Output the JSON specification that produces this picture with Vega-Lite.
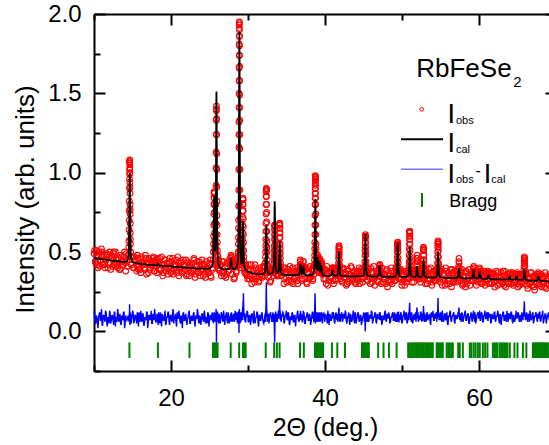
{
  "$schema": "https://vega.github.io/schema/vega-lite/v6.json",
  "width": 455,
  "height": 357,
  "autosize": {"type": "none"},
  "padding": {"left": 94, "top": 14, "right": 0, "bottom": 74},
  "background": "white",
  "config": {"view": {"stroke": null}, "font": "Liberation Sans"},
  "datasets": {
    "pattern": [
      {"t":10,"o":0.49,"d":0.11},{"t":10.15,"o":0.44,"d":0.06},{"t":10.3,"o":0.51,"d":0.10},{"t":10.45,"o":0.42,"d":0.05},
      {"t":10.6,"o":0.47,"d":0.09},{"t":10.75,"o":0.41,"d":0.12},{"t":10.9,"o":0.48,"d":0.07},{"t":11.05,"o":0.50,"d":0.04},
      {"t":11.2,"o":0.44,"d":0.10},{"t":11.35,"o":0.42,"d":0.08},{"t":11.5,"o":0.45,"d":0.13},{"t":11.65,"o":0.49,"d":0.06},
      {"t":11.8,"o":0.40,"d":0.09},{"t":11.95,"o":0.47,"d":0.05},{"t":12.1,"o":0.43,"d":0.11},{"t":12.25,"o":0.48,"d":0.07},
      {"t":12.4,"o":0.41,"d":0.10},{"t":12.55,"o":0.50,"d":0.04},{"t":12.7,"o":0.43,"d":0.12},{"t":12.85,"o":0.45,"d":0.08},
      {"t":13.0,"o":0.41,"d":0.06},{"t":13.15,"o":0.46,"d":0.11},{"t":13.3,"o":0.39,"d":0.09},{"t":13.45,"o":0.48,"d":0.05},
      {"t":13.6,"o":0.44,"d":0.10},{"t":13.75,"o":0.42,"d":0.07},{"t":13.9,"o":0.47,"d":0.12},{"t":14.05,"o":0.43,"d":0.06},
      {"t":14.2,"o":0.49,"d":0.08},{"t":14.34,"o":0.41,"d":0.08},{"t":14.44,"o":0.48,"d":0.10},{"t":14.49,"o":0.45,"d":0.07},
      {"t":14.52,"o":0.53,"d":0.09},{"t":14.54,"o":0.57,"d":0.06},{"t":14.56,"o":0.64,"d":0.10},{"t":14.58,"o":0.76,"d":0.08},
      {"t":14.59,"o":0.82,"d":0.12},{"t":14.60,"o":0.90,"d":0.09},{"t":14.61,"o":0.96,"d":0.13},{"t":14.62,"o":1.02,"d":0.17},
      {"t":14.63,"o":1.06,"d":0.12},{"t":14.64,"o":1.08,"d":0.10},{"t":14.65,"o":1.05,"d":0.07},{"t":14.66,"o":1.00,"d":0.04},
      {"t":14.67,"o":0.94,"d":0.06},{"t":14.68,"o":0.87,"d":0.09},{"t":14.69,"o":0.80,"d":0.05},{"t":14.70,"o":0.74,"d":0.10},
      {"t":14.72,"o":0.62,"d":0.07},{"t":14.74,"o":0.55,"d":0.11},{"t":14.76,"o":0.50,"d":0.06},{"t":14.79,"o":0.47,"d":0.09},
      {"t":14.84,"o":0.42,"d":0.05},{"t":14.94,"o":0.47,"d":0.10},
      {"t":15.1,"o":0.40,"d":0.11},{"t":15.25,"o":0.47,"d":0.07},{"t":15.4,"o":0.44,"d":0.10},{"t":15.55,"o":0.38,"d":0.05},
      {"t":15.7,"o":0.46,"d":0.09},{"t":15.85,"o":0.41,"d":0.12},{"t":16.0,"o":0.39,"d":0.06},{"t":16.15,"o":0.47,"d":0.08},
      {"t":16.3,"o":0.42,"d":0.11},{"t":16.45,"o":0.44,"d":0.04},{"t":16.6,"o":0.39,"d":0.09},{"t":16.75,"o":0.46,"d":0.07},
      {"t":16.9,"o":0.43,"d":0.12},{"t":17.05,"o":0.37,"d":0.06},{"t":17.2,"o":0.45,"d":0.10},{"t":17.35,"o":0.40,"d":0.08},
      {"t":17.5,"o":0.42,"d":0.05},{"t":17.65,"o":0.46,"d":0.11},{"t":17.8,"o":0.38,"d":0.07},{"t":17.95,"o":0.44,"d":0.10},
      {"t":18.1,"o":0.41,"d":0.06},{"t":18.25,"o":0.46,"d":0.09},{"t":18.4,"o":0.39,"d":0.12},{"t":18.55,"o":0.46,"d":0.05},
      {"t":18.7,"o":0.39,"d":0.08},{"t":18.85,"o":0.42,"d":0.11},{"t":19.0,"o":0.37,"d":0.07},{"t":19.15,"o":0.45,"d":0.10},
      {"t":19.3,"o":0.40,"d":0.04},{"t":19.45,"o":0.43,"d":0.09},{"t":19.6,"o":0.36,"d":0.12},{"t":19.75,"o":0.44,"d":0.06},
      {"t":19.9,"o":0.41,"d":0.10},{"t":20.05,"o":0.38,"d":0.07},{"t":20.2,"o":0.46,"d":0.11},{"t":20.35,"o":0.39,"d":0.05},
      {"t":20.5,"o":0.42,"d":0.09},{"t":20.65,"o":0.45,"d":0.06},{"t":20.8,"o":0.37,"d":0.12},{"t":20.95,"o":0.43,"d":0.08},
      {"t":21.1,"o":0.40,"d":0.10},{"t":21.25,"o":0.43,"d":0.05},{"t":21.4,"o":0.37,"d":0.09},{"t":21.55,"o":0.45,"d":0.11},
      {"t":21.7,"o":0.38,"d":0.07},{"t":21.85,"o":0.41,"d":0.10},{"t":22.0,"o":0.35,"d":0.06},{"t":22.15,"o":0.44,"d":0.08},
      {"t":22.3,"o":0.40,"d":0.12},{"t":22.45,"o":0.42,"d":0.05},{"t":22.6,"o":0.37,"d":0.09},{"t":22.75,"o":0.43,"d":0.07},
      {"t":22.9,"o":0.39,"d":0.11},{"t":23.05,"o":0.45,"d":0.06},{"t":23.2,"o":0.36,"d":0.10},{"t":23.35,"o":0.41,"d":0.08},
      {"t":23.5,"o":0.38,"d":0.12},{"t":23.65,"o":0.44,"d":0.05},{"t":23.8,"o":0.35,"d":0.09},{"t":23.95,"o":0.42,"d":0.07},
      {"t":24.1,"o":0.39,"d":0.11},{"t":24.25,"o":0.42,"d":0.06},{"t":24.4,"o":0.36,"d":0.10},{"t":24.55,"o":0.44,"d":0.08},
      {"t":24.7,"o":0.39,"d":0.05},{"t":24.85,"o":0.37,"d":0.11},{"t":25.0,"o":0.43,"d":0.07},{"t":25.15,"o":0.35,"d":0.10},
      {"t":25.30,"o":0.43,"d":0.09},{"t":25.40,"o":0.39,"d":0.06},{"t":25.45,"o":0.45,"d":0.11},{"t":25.50,"o":0.50,"d":0.08},
      {"t":25.53,"o":0.60,"d":0.10},{"t":25.56,"o":0.74,"d":0.07},{"t":25.58,"o":0.84,"d":0.11},{"t":25.60,"o":0.88,"d":0.09},
      {"t":25.62,"o":0.84,"d":0.12},{"t":25.64,"o":0.75,"d":0.06},{"t":25.67,"o":0.62,"d":0.09},{"t":25.70,"o":0.53,"d":0.11},
      {"t":25.74,"o":0.50,"d":0.07},{"t":25.78,"o":0.55,"d":0.10},{"t":25.81,"o":0.68,"d":0.08},{"t":25.84,"o":0.92,"d":0.12},
      {"t":25.86,"o":1.13,"d":0.14},{"t":25.88,"o":1.33,"d":0.06},{"t":25.90,"o":1.42,"d":-0.07},{"t":25.92,"o":1.34,"d":0.03},
      {"t":25.94,"o":1.12,"d":0.10},{"t":25.96,"o":0.91,"d":0.08},{"t":25.98,"o":0.73,"d":0.11},{"t":26.00,"o":0.61,"d":0.06},
      {"t":26.03,"o":0.51,"d":0.09},{"t":26.06,"o":0.45,"d":0.12},{"t":26.10,"o":0.47,"d":0.07},{"t":26.15,"o":0.40,"d":0.10},
      {"t":26.20,"o":0.44,"d":0.05},{"t":26.30,"o":0.38,"d":0.09},
      {"t":26.45,"o":0.42,"d":0.07},{"t":26.6,"o":0.37,"d":0.11},{"t":26.75,"o":0.44,"d":0.06},{"t":26.9,"o":0.35,"d":0.10},
      {"t":27.05,"o":0.40,"d":0.08},{"t":27.2,"o":0.36,"d":0.12},{"t":27.35,"o":0.41,"d":0.05},{"t":27.5,"o":0.38,"d":0.09},
      {"t":27.65,"o":0.43,"d":0.07},{"t":27.72,"o":0.41,"d":0.10},{"t":27.76,"o":0.46,"d":0.11},{"t":27.8,"o":0.48,"d":0.09},
      {"t":27.84,"o":0.45,"d":0.06},{"t":27.88,"o":0.43,"d":0.10},{"t":27.95,"o":0.36,"d":0.08},{"t":28.1,"o":0.42,"d":0.11},
      {"t":28.25,"o":0.34,"d":0.06},{"t":28.4,"o":0.42,"d":0.09},
      {"t":28.50,"o":0.38,"d":0.10},{"t":28.60,"o":0.45,"d":0.07},{"t":28.66,"o":0.43,"d":0.11},{"t":28.70,"o":0.47,"d":0.06},
      {"t":28.73,"o":0.50,"d":0.09},{"t":28.76,"o":0.59,"d":0.12},{"t":28.78,"o":0.70,"d":0.05},{"t":28.80,"o":0.89,"d":0.08},
      {"t":28.82,"o":1.16,"d":0.03},{"t":28.83,"o":1.32,"d":-0.01},{"t":28.84,"o":1.50,"d":0.04},{"t":28.85,"o":1.66,"d":0.10},
      {"t":28.86,"o":1.81,"d":0.07},{"t":28.87,"o":1.91,"d":0.11},{"t":28.88,"o":1.95,"d":0.13},{"t":28.89,"o":1.90,"d":0.09},
      {"t":28.90,"o":1.80,"d":0.12},{"t":28.91,"o":1.67,"d":0.06},{"t":28.92,"o":1.49,"d":0.10},{"t":28.93,"o":1.33,"d":0.08},
      {"t":28.94,"o":1.15,"d":0.05},{"t":28.96,"o":0.89,"d":0.11},{"t":28.98,"o":0.71,"d":0.07},{"t":29.00,"o":0.58,"d":0.10},
      {"t":29.03,"o":0.51,"d":0.06},{"t":29.06,"o":0.46,"d":0.12},{"t":29.10,"o":0.45,"d":0.08},{"t":29.15,"o":0.44,"d":0.11},
      {"t":29.20,"o":0.42,"d":0.07},{"t":29.24,"o":0.48,"d":0.10},{"t":29.27,"o":0.55,"d":0.13},{"t":29.29,"o":0.62,"d":0.09},
      {"t":29.31,"o":0.72,"d":0.15},{"t":29.33,"o":0.80,"d":0.12},{"t":29.35,"o":0.84,"d":0.18},{"t":29.37,"o":0.80,"d":0.14},
      {"t":29.39,"o":0.71,"d":0.20},{"t":29.41,"o":0.61,"d":0.24},{"t":29.44,"o":0.51,"d":0.16},{"t":29.48,"o":0.44,"d":0.10},
      {"t":29.53,"o":0.39,"d":0.07},{"t":29.60,"o":0.42,"d":0.11},{"t":29.70,"o":0.37,"d":0.06},
      {"t":29.8,"o":0.41,"d":0.09},{"t":29.95,"o":0.33,"d":0.12},{"t":30.1,"o":0.38,"d":0.06},{"t":30.25,"o":0.35,"d":0.10},
      {"t":30.4,"o":0.42,"d":0.07},{"t":30.55,"o":0.33,"d":0.11},{"t":30.7,"o":0.38,"d":0.05},{"t":30.85,"o":0.31,"d":0.09},
      {"t":31.0,"o":0.40,"d":0.08},{"t":31.15,"o":0.35,"d":0.12},{"t":31.3,"o":0.39,"d":0.06},{"t":31.45,"o":0.32,"d":0.10},
      {"t":31.6,"o":0.36,"d":0.07},{"t":31.75,"o":0.38,"d":0.11},{"t":31.9,"o":0.35,"d":0.08},{"t":32.05,"o":0.41,"d":0.05},
      {"t":32.15,"o":0.37,"d":0.08},{"t":32.22,"o":0.41,"d":0.11},{"t":32.26,"o":0.43,"d":0.07},{"t":32.29,"o":0.50,"d":0.10},
      {"t":32.31,"o":0.58,"d":0.13},{"t":32.33,"o":0.68,"d":0.16},{"t":32.35,"o":0.80,"d":0.22},{"t":32.37,"o":0.88,"d":0.28},
      {"t":32.38,"o":0.90,"d":0.31},{"t":32.39,"o":0.89,"d":0.26},{"t":32.41,"o":0.80,"d":0.19},{"t":32.43,"o":0.69,"d":0.14},
      {"t":32.45,"o":0.57,"d":0.09},{"t":32.47,"o":0.50,"d":0.12},{"t":32.50,"o":0.42,"d":0.06},{"t":32.54,"o":0.39,"d":0.10},
      {"t":32.60,"o":0.41,"d":0.07},{"t":32.68,"o":0.34,"d":0.11},
      {"t":32.8,"o":0.38,"d":0.09},{"t":32.95,"o":0.32,"d":0.12},{"t":33.1,"o":0.37,"d":0.06},
      {"t":33.20,"o":0.39,"d":0.10},{"t":33.28,"o":0.35,"d":0.07},{"t":33.33,"o":0.39,"d":0.11},{"t":33.37,"o":0.42,"d":0.08},
      {"t":33.40,"o":0.48,"d":0.05},{"t":33.42,"o":0.54,"d":0.03},{"t":33.44,"o":0.61,"d":-0.02},{"t":33.46,"o":0.66,"d":-0.07},
      {"t":33.47,"o":0.67,"d":-0.05},{"t":33.49,"o":0.64,"d":0.01},{"t":33.51,"o":0.58,"d":0.06},{"t":33.53,"o":0.51,"d":0.10},
      {"t":33.55,"o":0.46,"d":0.08},{"t":33.58,"o":0.41,"d":0.12},{"t":33.63,"o":0.36,"d":0.07},{"t":33.70,"o":0.39,"d":0.10},
      {"t":33.78,"o":0.35,"d":0.06},{"t":33.86,"o":0.38,"d":0.09},{"t":33.93,"o":0.36,"d":0.12},{"t":33.98,"o":0.40,"d":0.08},
      {"t":34.02,"o":0.43,"d":0.11},{"t":34.05,"o":0.49,"d":0.13},{"t":34.07,"o":0.55,"d":0.15},{"t":34.09,"o":0.62,"d":0.17},
      {"t":34.11,"o":0.67,"d":0.19},{"t":34.12,"o":0.68,"d":0.18},{"t":34.13,"o":0.67,"d":0.14},{"t":34.15,"o":0.62,"d":0.11},
      {"t":34.17,"o":0.55,"d":0.08},{"t":34.19,"o":0.49,"d":0.12},{"t":34.22,"o":0.43,"d":0.07},{"t":34.26,"o":0.39,"d":0.10},
      {"t":34.32,"o":0.35,"d":0.06},{"t":34.40,"o":0.38,"d":0.09},
      {"t":34.6,"o":0.40,"d":0.11},{"t":34.75,"o":0.33,"d":0.06},{"t":34.9,"o":0.37,"d":0.10},{"t":35.05,"o":0.31,"d":0.08},
      {"t":35.2,"o":0.39,"d":0.12},{"t":35.35,"o":0.35,"d":0.05},{"t":35.5,"o":0.37,"d":0.09},{"t":35.65,"o":0.31,"d":0.07},
      {"t":35.8,"o":0.40,"d":0.11},{"t":35.95,"o":0.33,"d":0.06},{"t":36.1,"o":0.35,"d":0.10},{"t":36.25,"o":0.38,"d":0.08},
      {"t":36.4,"o":0.32,"d":0.12},{"t":36.55,"o":0.37,"d":0.07},{"t":36.7,"o":0.39,"d":0.09},{"t":36.76,"o":0.42,"d":0.10},
      {"t":36.8,"o":0.45,"d":0.12},{"t":36.84,"o":0.41,"d":0.08},{"t":36.9,"o":0.36,"d":0.11},{"t":37.05,"o":0.33,"d":0.06},
      {"t":37.12,"o":0.39,"d":0.10},{"t":37.16,"o":0.41,"d":0.09},{"t":37.2,"o":0.44,"d":0.12},{"t":37.24,"o":0.40,"d":0.07},
      {"t":37.3,"o":0.38,"d":0.10},{"t":37.45,"o":0.40,"d":0.05},{"t":37.6,"o":0.31,"d":0.09},{"t":37.75,"o":0.37,"d":0.11},
      {"t":37.9,"o":0.33,"d":0.07},{"t":38.05,"o":0.41,"d":0.10},{"t":38.2,"o":0.35,"d":0.06},{"t":38.35,"o":0.39,"d":0.12},
      {"t":38.45,"o":0.33,"d":0.08},{"t":38.52,"o":0.39,"d":0.11},{"t":38.58,"o":0.39,"d":0.06},{"t":38.62,"o":0.42,"d":0.10},
      {"t":38.65,"o":0.48,"d":0.13},{"t":38.67,"o":0.56,"d":0.16},{"t":38.69,"o":0.67,"d":0.20},{"t":38.71,"o":0.80,"d":0.24},
      {"t":38.72,"o":0.87,"d":0.21},{"t":38.73,"o":0.93,"d":0.18},{"t":38.74,"o":0.97,"d":0.15},{"t":38.75,"o":0.98,"d":0.13},
      {"t":38.76,"o":0.96,"d":0.10},{"t":38.77,"o":0.92,"d":0.07},{"t":38.78,"o":0.87,"d":0.05},{"t":38.79,"o":0.80,"d":0.08},
      {"t":38.81,"o":0.67,"d":0.11},{"t":38.83,"o":0.55,"d":0.07},{"t":38.85,"o":0.49,"d":0.10},{"t":38.88,"o":0.43,"d":0.06},
      {"t":38.92,"o":0.41,"d":0.09},{"t":38.96,"o":0.40,"d":0.12},{"t":39.00,"o":0.44,"d":0.08},{"t":39.05,"o":0.48,"d":0.10},
      {"t":39.10,"o":0.45,"d":0.06},{"t":39.15,"o":0.40,"d":0.11},{"t":39.20,"o":0.37,"d":0.07},{"t":39.25,"o":0.43,"d":0.09},
      {"t":39.30,"o":0.46,"d":0.12},{"t":39.35,"o":0.41,"d":0.06},{"t":39.40,"o":0.39,"d":0.10},{"t":39.45,"o":0.37,"d":0.08},
      {"t":39.50,"o":0.41,"d":0.11},{"t":39.55,"o":0.44,"d":0.07},{"t":39.60,"o":0.40,"d":0.10},{"t":39.66,"o":0.36,"d":0.05},
      {"t":39.75,"o":0.38,"d":0.09},
      {"t":39.85,"o":0.33,"d":0.12},{"t":40.0,"o":0.39,"d":0.07},{"t":40.15,"o":0.30,"d":0.10},{"t":40.3,"o":0.36,"d":0.05},
      {"t":40.45,"o":0.32,"d":0.09},{"t":40.6,"o":0.38,"d":0.11},{"t":40.75,"o":0.34,"d":0.07},{"t":40.9,"o":0.39,"d":0.10},
      {"t":40.96,"o":0.40,"d":0.08},{"t":41.05,"o":0.32,"d":0.12},{"t":41.2,"o":0.40,"d":0.06},{"t":41.35,"o":0.33,"d":0.10},
      {"t":41.5,"o":0.36,"d":0.08},
      {"t":41.62,"o":0.39,"d":0.09},{"t":41.68,"o":0.35,"d":0.07},{"t":41.72,"o":0.39,"d":0.11},{"t":41.75,"o":0.43,"d":0.10},
      {"t":41.78,"o":0.48,"d":0.13},{"t":41.80,"o":0.52,"d":0.12},{"t":41.82,"o":0.54,"d":0.15},{"t":41.84,"o":0.52,"d":0.11},
      {"t":41.86,"o":0.48,"d":0.08},{"t":41.89,"o":0.42,"d":0.10},{"t":41.92,"o":0.39,"d":0.06},{"t":41.96,"o":0.37,"d":0.11},
      {"t":42.02,"o":0.33,"d":0.08},
      {"t":42.1,"o":0.37,"d":0.10},{"t":42.25,"o":0.31,"d":0.06},{"t":42.4,"o":0.39,"d":0.11},{"t":42.55,"o":0.34,"d":0.08},
      {"t":42.7,"o":0.36,"d":0.12},{"t":42.85,"o":0.30,"d":0.05},{"t":43.0,"o":0.38,"d":0.09},{"t":43.15,"o":0.33,"d":0.07},
      {"t":43.3,"o":0.35,"d":0.11},{"t":43.45,"o":0.40,"d":0.06},{"t":43.6,"o":0.32,"d":0.10},{"t":43.75,"o":0.37,"d":0.08},
      {"t":43.9,"o":0.31,"d":0.12},{"t":44.05,"o":0.36,"d":0.05},{"t":44.2,"o":0.34,"d":0.09},{"t":44.35,"o":0.38,"d":0.11},
      {"t":44.5,"o":0.30,"d":0.07},{"t":44.65,"o":0.39,"d":0.10},{"t":44.8,"o":0.33,"d":0.06},{"t":44.95,"o":0.37,"d":0.09},
      {"t":45.07,"o":0.34,"d":0.10},{"t":45.12,"o":0.38,"d":0.07},{"t":45.16,"o":0.41,"d":0.11},{"t":45.19,"o":0.48,"d":0.06},
      {"t":45.21,"o":0.53,"d":0.03},{"t":45.23,"o":0.59,"d":0.00},{"t":45.25,"o":0.61,"d":0.04},{"t":45.27,"o":0.59,"d":0.08},
      {"t":45.29,"o":0.53,"d":0.11},{"t":45.31,"o":0.48,"d":0.07},{"t":45.34,"o":0.41,"d":0.10},{"t":45.38,"o":0.36,"d":0.12},
      {"t":45.43,"o":0.37,"d":0.07},{"t":45.52,"o":0.32,"d":0.10},
      {"t":45.65,"o":0.38,"d":0.06},{"t":45.8,"o":0.34,"d":0.10},{"t":45.95,"o":0.40,"d":0.08},{"t":46.1,"o":0.31,"d":0.12},
      {"t":46.25,"o":0.37,"d":0.07},{"t":46.4,"o":0.33,"d":0.09},{"t":46.55,"o":0.35,"d":0.11},{"t":46.7,"o":0.38,"d":0.05},
      {"t":46.85,"o":0.32,"d":0.10},{"t":47.0,"o":0.37,"d":0.08},{"t":47.05,"o":0.39,"d":0.11},{"t":47.1,"o":0.42,"d":0.09},
      {"t":47.15,"o":0.40,"d":0.12},{"t":47.22,"o":0.36,"d":0.07},{"t":47.3,"o":0.30,"d":0.10},{"t":47.45,"o":0.37,"d":0.06},
      {"t":47.6,"o":0.33,"d":0.09},{"t":47.75,"o":0.36,"d":0.12},{"t":47.9,"o":0.30,"d":0.07},{"t":48.05,"o":0.39,"d":0.11},
      {"t":48.2,"o":0.32,"d":0.08},{"t":48.35,"o":0.35,"d":0.10},{"t":48.5,"o":0.31,"d":0.06},{"t":48.65,"o":0.38,"d":0.09},
      {"t":48.8,"o":0.34,"d":0.12},{"t":48.95,"o":0.37,"d":0.07},{"t":49.1,"o":0.32,"d":0.10},
      {"t":49.22,"o":0.37,"d":0.08},{"t":49.28,"o":0.35,"d":0.11},{"t":49.33,"o":0.38,"d":0.07},{"t":49.36,"o":0.41,"d":0.10},
      {"t":49.39,"o":0.47,"d":0.06},{"t":49.41,"o":0.52,"d":0.09},{"t":49.43,"o":0.55,"d":0.12},{"t":49.44,"o":0.56,"d":0.10},
      {"t":49.46,"o":0.54,"d":0.07},{"t":49.48,"o":0.50,"d":0.11},{"t":49.51,"o":0.43,"d":0.08},{"t":49.55,"o":0.37,"d":0.12},
      {"t":49.60,"o":0.36,"d":0.06},{"t":49.68,"o":0.38,"d":0.10},
      {"t":49.75,"o":0.33,"d":0.07},{"t":49.9,"o":0.38,"d":0.11},{"t":50.05,"o":0.31,"d":0.06},{"t":50.2,"o":0.35,"d":0.10},
      {"t":50.35,"o":0.29,"d":0.08},{"t":50.5,"o":0.37,"d":0.12},{"t":50.65,"o":0.34,"d":0.05},
      {"t":50.78,"o":0.37,"d":0.09},{"t":50.84,"o":0.34,"d":0.12},{"t":50.89,"o":0.39,"d":0.08},{"t":50.92,"o":0.44,"d":0.11},
      {"t":50.95,"o":0.52,"d":0.14},{"t":50.97,"o":0.58,"d":0.16},{"t":50.99,"o":0.62,"d":0.18},{"t":51.00,"o":0.63,"d":0.17},
      {"t":51.01,"o":0.62,"d":0.15},{"t":51.03,"o":0.58,"d":0.12},{"t":51.05,"o":0.51,"d":0.09},{"t":51.08,"o":0.44,"d":0.11},
      {"t":51.11,"o":0.39,"d":0.07},{"t":51.16,"o":0.36,"d":0.10},{"t":51.22,"o":0.38,"d":0.06},
      {"t":51.3,"o":0.31,"d":0.10},{"t":51.45,"o":0.37,"d":0.07},{"t":51.6,"o":0.34,"d":0.11},
      {"t":51.75,"o":0.38,"d":0.10},{"t":51.82,"o":0.34,"d":0.06},{"t":51.87,"o":0.39,"d":0.11},{"t":51.91,"o":0.44,"d":0.13},
      {"t":51.95,"o":0.48,"d":0.15},{"t":51.99,"o":0.44,"d":0.11},{"t":52.03,"o":0.39,"d":0.08},{"t":52.08,"o":0.36,"d":0.12},
      {"t":52.15,"o":0.33,"d":0.07},
      {"t":52.25,"o":0.38,"d":0.09},{"t":52.4,"o":0.31,"d":0.12},{"t":52.55,"o":0.36,"d":0.06},
      {"t":52.62,"o":0.34,"d":0.11},{"t":52.68,"o":0.36,"d":0.07},{"t":52.72,"o":0.40,"d":0.10},{"t":52.75,"o":0.45,"d":0.12},
      {"t":52.78,"o":0.51,"d":0.14},{"t":52.80,"o":0.53,"d":0.15},{"t":52.82,"o":0.51,"d":0.12},{"t":52.85,"o":0.45,"d":0.09},
      {"t":52.88,"o":0.40,"d":0.11},{"t":52.92,"o":0.37,"d":0.06},{"t":52.98,"o":0.37,"d":0.10},
      {"t":53.05,"o":0.30,"d":0.08},{"t":53.2,"o":0.37,"d":0.11},{"t":53.35,"o":0.32,"d":0.07},{"t":53.5,"o":0.39,"d":0.10},
      {"t":53.65,"o":0.33,"d":0.06},{"t":53.8,"o":0.36,"d":0.12},{"t":53.95,"o":0.31,"d":0.09},{"t":54.1,"o":0.38,"d":0.07},
      {"t":54.25,"o":0.32,"d":0.11},{"t":54.4,"o":0.35,"d":0.08},
      {"t":54.48,"o":0.37,"d":0.09},{"t":54.54,"o":0.34,"d":0.12},{"t":54.58,"o":0.39,"d":0.08},{"t":54.61,"o":0.43,"d":0.11},
      {"t":54.64,"o":0.50,"d":0.14},{"t":54.66,"o":0.55,"d":0.17},{"t":54.68,"o":0.57,"d":0.21},{"t":54.70,"o":0.55,"d":0.16},
      {"t":54.72,"o":0.51,"d":0.12},{"t":54.75,"o":0.43,"d":0.09},{"t":54.78,"o":0.38,"d":0.11},{"t":54.83,"o":0.36,"d":0.07},
      {"t":54.90,"o":0.38,"d":0.10},
      {"t":55.0,"o":0.31,"d":0.12},{"t":55.15,"o":0.39,"d":0.06},{"t":55.3,"o":0.33,"d":0.10},{"t":55.45,"o":0.36,"d":0.07},
      {"t":55.6,"o":0.29,"d":0.11},{"t":55.75,"o":0.38,"d":0.08},{"t":55.9,"o":0.32,"d":0.05},{"t":56.05,"o":0.37,"d":0.10},
      {"t":56.2,"o":0.30,"d":0.12},{"t":56.35,"o":0.35,"d":0.07},{"t":56.5,"o":0.39,"d":0.09},{"t":56.65,"o":0.31,"d":0.11},
      {"t":56.8,"o":0.36,"d":0.06},{"t":56.95,"o":0.33,"d":0.10},{"t":57.1,"o":0.38,"d":0.08},
      {"t":57.22,"o":0.32,"d":0.09},{"t":57.30,"o":0.36,"d":0.11},{"t":57.35,"o":0.41,"d":0.13},{"t":57.40,"o":0.46,"d":0.15},
      {"t":57.45,"o":0.40,"d":0.10},{"t":57.50,"o":0.37,"d":0.07},{"t":57.58,"o":0.34,"d":0.11},
      {"t":57.7,"o":0.37,"d":0.06},{"t":57.85,"o":0.29,"d":0.10},{"t":58.0,"o":0.34,"d":0.08},{"t":58.15,"o":0.31,"d":0.12},
      {"t":58.3,"o":0.38,"d":0.07},{"t":58.45,"o":0.30,"d":0.09},{"t":58.6,"o":0.35,"d":0.11},{"t":58.75,"o":0.32,"d":0.05},
      {"t":58.9,"o":0.37,"d":0.10},{"t":59.05,"o":0.32,"d":0.08},
      {"t":59.18,"o":0.35,"d":0.11},{"t":59.24,"o":0.37,"d":0.08},{"t":59.30,"o":0.41,"d":0.12},{"t":59.36,"o":0.38,"d":0.09},
      {"t":59.42,"o":0.34,"d":0.06},
      {"t":59.5,"o":0.37,"d":0.10},{"t":59.65,"o":0.29,"d":0.07},{"t":59.8,"o":0.35,"d":0.11},{"t":59.95,"o":0.33,"d":0.08},
      {"t":60.05,"o":0.37,"d":0.10},{"t":60.1,"o":0.39,"d":0.12},{"t":60.15,"o":0.36,"d":0.07},{"t":60.25,"o":0.37,"d":0.09},
      {"t":60.4,"o":0.30,"d":0.11},{"t":60.55,"o":0.34,"d":0.06},{"t":60.7,"o":0.38,"d":0.10},{"t":60.85,"o":0.31,"d":0.08},
      {"t":61.0,"o":0.35,"d":0.12},{"t":61.15,"o":0.36,"d":0.07},{"t":61.2,"o":0.37,"d":0.10},{"t":61.3,"o":0.30,"d":0.09},
      {"t":61.45,"o":0.37,"d":0.11},{"t":61.6,"o":0.31,"d":0.06},{"t":61.75,"o":0.33,"d":0.10},{"t":61.9,"o":0.36,"d":0.08},
      {"t":62.05,"o":0.28,"d":0.12},{"t":62.2,"o":0.35,"d":0.07},{"t":62.35,"o":0.32,"d":0.09},{"t":62.5,"o":0.37,"d":0.11},
      {"t":62.65,"o":0.30,"d":0.05},{"t":62.8,"o":0.34,"d":0.10},{"t":62.95,"o":0.31,"d":0.08},{"t":63.1,"o":0.38,"d":0.12},
      {"t":63.25,"o":0.29,"d":0.07},{"t":63.4,"o":0.35,"d":0.10},{"t":63.55,"o":0.32,"d":0.06},{"t":63.7,"o":0.36,"d":0.09},
      {"t":63.85,"o":0.30,"d":0.11},{"t":64.0,"o":0.37,"d":0.08},{"t":64.15,"o":0.31,"d":0.12},{"t":64.3,"o":0.37,"d":0.07},
      {"t":64.45,"o":0.29,"d":0.10},{"t":64.6,"o":0.35,"d":0.06},{"t":64.75,"o":0.32,"d":0.09},{"t":64.86,"o":0.36,"d":0.11},
      {"t":64.9,"o":0.37,"d":0.08},{"t":65.05,"o":0.28,"d":0.12},{"t":65.2,"o":0.34,"d":0.07},{"t":65.35,"o":0.31,"d":0.10},
      {"t":65.5,"o":0.36,"d":0.06},{"t":65.65,"o":0.31,"d":0.09},
      {"t":65.75,"o":0.35,"d":0.10},{"t":65.81,"o":0.36,"d":0.12},{"t":65.85,"o":0.41,"d":0.15},{"t":65.88,"o":0.46,"d":0.19},
      {"t":65.90,"o":0.47,"d":0.17},{"t":65.92,"o":0.45,"d":0.13},{"t":65.95,"o":0.41,"d":0.09},{"t":65.99,"o":0.36,"d":0.11},
      {"t":66.05,"o":0.32,"d":0.07},
      {"t":66.1,"o":0.36,"d":0.10},{"t":66.25,"o":0.29,"d":0.08},{"t":66.4,"o":0.33,"d":0.11},{"t":66.55,"o":0.30,"d":0.06},
      {"t":66.7,"o":0.37,"d":0.10},{"t":66.85,"o":0.31,"d":0.08},{"t":67.0,"o":0.34,"d":0.12},{"t":67.15,"o":0.28,"d":0.07},
      {"t":67.3,"o":0.35,"d":0.09},{"t":67.45,"o":0.30,"d":0.11},{"t":67.6,"o":0.35,"d":0.06},{"t":67.7,"o":0.37,"d":0.10},
      {"t":67.75,"o":0.35,"d":0.08},{"t":67.9,"o":0.29,"d":0.12},{"t":68.05,"o":0.36,"d":0.07},{"t":68.2,"o":0.31,"d":0.10},
      {"t":68.35,"o":0.34,"d":0.05},{"t":68.5,"o":0.28,"d":0.09},{"t":68.65,"o":0.35,"d":0.11},{"t":68.8,"o":0.30,"d":0.07},
      {"t":68.95,"o":0.33,"d":0.10},{"t":69.1,"o":0.29,"d":0.08},{"t":69.25,"o":0.36,"d":0.12},{"t":69.4,"o":0.30,"d":0.06},

      {"t":10.075,"o":0.51,"d":0.13},{"t":10.225,"o":0.43,"d":0.05},{"t":10.375,"o":0.47,"d":0.09},{"t":10.525,"o":0.40,"d":0.02},
      {"t":10.675,"o":0.50,"d":0.11},{"t":10.825,"o":0.45,"d":0.07},{"t":10.975,"o":0.52,"d":0.14},{"t":11.125,"o":0.42,"d":0.04},
      {"t":11.275,"o":0.47,"d":0.10},{"t":11.425,"o":0.40,"d":0.06},{"t":11.575,"o":0.45,"d":0.12},{"t":11.725,"o":0.48,"d":0.03},
      {"t":11.875,"o":0.43,"d":0.08},{"t":12.025,"o":0.50,"d":0.13},{"t":12.175,"o":0.39,"d":0.05},{"t":12.325,"o":0.46,"d":0.10},
      {"t":12.475,"o":0.49,"d":0.07},{"t":12.625,"o":0.42,"d":0.12},{"t":12.775,"o":0.50,"d":0.03},{"t":12.925,"o":0.43,"d":0.09},
      {"t":13.075,"o":0.40,"d":0.14},{"t":13.225,"o":0.46,"d":0.06},{"t":13.375,"o":0.39,"d":0.11},{"t":13.525,"o":0.47,"d":0.04},
      {"t":13.675,"o":0.44,"d":0.08},{"t":13.825,"o":0.42,"d":0.12},{"t":13.975,"o":0.50,"d":0.02},{"t":14.125,"o":0.38,"d":0.10},
      {"t":14.275,"o":0.45,"d":0.07},
      {"t":14.575,"o":0.70,"d":0.09},{"t":14.615,"o":0.99,"d":0.14},{"t":14.635,"o":1.07,"d":0.11},{"t":14.645,"o":1.07,"d":0.09},
      {"t":14.655,"o":1.03,"d":0.06},{"t":14.675,"o":0.91,"d":0.08},{"t":14.695,"o":0.77,"d":0.12},{"t":14.71,"o":0.68,"d":0.06},
      {"t":14.73,"o":0.58,"d":0.10},
      {"t":15.025,"o":0.47,"d":0.13},{"t":15.175,"o":0.40,"d":0.05},{"t":15.325,"o":0.45,"d":0.10},{"t":15.475,"o":0.42,"d":0.07},
      {"t":15.625,"o":0.48,"d":0.12},{"t":15.775,"o":0.39,"d":0.03},{"t":15.925,"o":0.46,"d":0.09},{"t":16.075,"o":0.37,"d":0.13},
      {"t":16.225,"o":0.43,"d":0.06},{"t":16.375,"o":0.42,"d":0.11},{"t":16.525,"o":0.40,"d":0.04},{"t":16.675,"o":0.48,"d":0.08},
      {"t":16.825,"o":0.36,"d":0.12},{"t":16.975,"o":0.43,"d":0.02},{"t":17.125,"o":0.46,"d":0.10},{"t":17.275,"o":0.39,"d":0.07},
      {"t":17.425,"o":0.44,"d":0.13},{"t":17.575,"o":0.41,"d":0.05},{"t":17.725,"o":0.47,"d":0.09},{"t":17.875,"o":0.38,"d":0.14},
      {"t":18.025,"o":0.45,"d":0.06},{"t":18.175,"o":0.37,"d":0.11},{"t":18.325,"o":0.43,"d":0.04},{"t":18.475,"o":0.42,"d":0.08},
      {"t":18.625,"o":0.39,"d":0.12},{"t":18.775,"o":0.47,"d":0.03},{"t":18.925,"o":0.35,"d":0.10},{"t":19.075,"o":0.42,"d":0.07},
      {"t":19.225,"o":0.45,"d":0.13},{"t":19.375,"o":0.38,"d":0.05},{"t":19.525,"o":0.43,"d":0.09},{"t":19.675,"o":0.40,"d":0.12},
      {"t":19.825,"o":0.46,"d":0.04},{"t":19.975,"o":0.37,"d":0.10},{"t":20.125,"o":0.44,"d":0.06},{"t":20.275,"o":0.36,"d":0.14},
      {"t":20.425,"o":0.42,"d":0.08},{"t":20.575,"o":0.41,"d":0.11},{"t":20.725,"o":0.39,"d":0.03},{"t":20.875,"o":0.47,"d":0.09},
      {"t":21.025,"o":0.35,"d":0.13},{"t":21.175,"o":0.41,"d":0.06},{"t":21.325,"o":0.44,"d":0.10},{"t":21.475,"o":0.37,"d":0.02},
      {"t":21.625,"o":0.42,"d":0.12},{"t":21.775,"o":0.39,"d":0.07},{"t":21.925,"o":0.45,"d":0.11},{"t":22.075,"o":0.36,"d":0.04},
      {"t":22.225,"o":0.43,"d":0.09},{"t":22.375,"o":0.35,"d":0.13},{"t":22.525,"o":0.41,"d":0.05},{"t":22.675,"o":0.40,"d":0.10},
      {"t":22.825,"o":0.38,"d":0.07},{"t":22.975,"o":0.46,"d":0.12},{"t":23.125,"o":0.34,"d":0.03},{"t":23.275,"o":0.41,"d":0.08},
      {"t":23.425,"o":0.44,"d":0.14},{"t":23.575,"o":0.37,"d":0.06},{"t":23.725,"o":0.42,"d":0.10},{"t":23.875,"o":0.39,"d":0.04},
      {"t":24.025,"o":0.45,"d":0.11},{"t":24.175,"o":0.35,"d":0.07},{"t":24.325,"o":0.42,"d":0.13},{"t":24.475,"o":0.34,"d":0.05},
      {"t":24.625,"o":0.40,"d":0.09},{"t":24.775,"o":0.39,"d":0.12},{"t":24.925,"o":0.37,"d":0.03},{"t":25.075,"o":0.45,"d":0.10},
      {"t":25.225,"o":0.34,"d":0.07},
      {"t":25.35,"o":0.40,"d":0.12},{"t":25.515,"o":0.55,"d":0.05},{"t":25.545,"o":0.67,"d":0.10},{"t":25.57,"o":0.80,"d":0.07},
      {"t":25.59,"o":0.87,"d":0.12},{"t":25.61,"o":0.87,"d":0.06},{"t":25.63,"o":0.80,"d":0.10},{"t":25.655,"o":0.68,"d":0.08},
      {"t":25.685,"o":0.57,"d":0.11},{"t":25.72,"o":0.51,"d":0.06},{"t":25.76,"o":0.52,"d":0.10},{"t":25.795,"o":0.61,"d":0.07},
      {"t":25.825,"o":0.80,"d":0.11},{"t":25.85,"o":1.03,"d":0.13},{"t":25.87,"o":1.24,"d":0.09},{"t":25.89,"o":1.39,"d":0.02},
      {"t":25.91,"o":1.40,"d":-0.04},{"t":25.93,"o":1.24,"d":0.07},{"t":25.95,"o":1.02,"d":0.11},{"t":25.97,"o":0.82,"d":0.06},
      {"t":25.99,"o":0.67,"d":0.10},{"t":26.015,"o":0.56,"d":0.08},{"t":26.045,"o":0.48,"d":0.12},{"t":26.08,"o":0.44,"d":0.06},
      {"t":26.125,"o":0.42,"d":0.10},{"t":26.175,"o":0.45,"d":0.07},{"t":26.25,"o":0.39,"d":0.11},
      {"t":26.375,"o":0.42,"d":0.05},{"t":26.525,"o":0.35,"d":0.12},{"t":26.675,"o":0.44,"d":0.08},{"t":26.825,"o":0.37,"d":0.13},
      {"t":26.975,"o":0.40,"d":0.04},{"t":27.125,"o":0.34,"d":0.10},{"t":27.275,"o":0.43,"d":0.07},{"t":27.425,"o":0.38,"d":0.12},
      {"t":27.575,"o":0.45,"d":0.05},{"t":27.74,"o":0.44,"d":0.09},{"t":27.78,"o":0.47,"d":0.11},{"t":27.82,"o":0.47,"d":0.08},
      {"t":27.86,"o":0.42,"d":0.12},{"t":28.025,"o":0.42,"d":0.06},{"t":28.175,"o":0.33,"d":0.10},{"t":28.325,"o":0.41,"d":0.13},
      {"t":28.475,"o":0.37,"d":0.07},
      {"t":28.55,"o":0.41,"d":0.12},{"t":28.63,"o":0.44,"d":0.05},{"t":28.68,"o":0.46,"d":0.10},{"t":28.715,"o":0.49,"d":0.07},
      {"t":28.745,"o":0.55,"d":0.12},{"t":28.77,"o":0.65,"d":0.09},{"t":28.79,"o":0.79,"d":0.06},{"t":28.81,"o":1.02,"d":0.11},
      {"t":28.825,"o":1.24,"d":0.02},{"t":28.835,"o":1.41,"d":0.00},{"t":28.845,"o":1.58,"d":0.07},{"t":28.855,"o":1.74,"d":0.12},
      {"t":28.865,"o":1.86,"d":0.08},{"t":28.875,"o":1.94,"d":0.10},{"t":28.885,"o":1.93,"d":0.14},{"t":28.895,"o":1.86,"d":0.10},
      {"t":28.905,"o":1.74,"d":0.07},{"t":28.915,"o":1.58,"d":0.12},{"t":28.925,"o":1.41,"d":0.06},{"t":28.935,"o":1.24,"d":0.09},
      {"t":28.95,"o":1.02,"d":0.12},{"t":28.97,"o":0.79,"d":0.05},{"t":28.99,"o":0.64,"d":0.10},{"t":29.015,"o":0.54,"d":0.07},
      {"t":29.045,"o":0.48,"d":0.11},{"t":29.08,"o":0.43,"d":0.06},{"t":29.125,"o":0.46,"d":0.10},{"t":29.175,"o":0.40,"d":0.08},
      {"t":29.22,"o":0.45,"d":0.12},{"t":29.255,"o":0.51,"d":0.07},{"t":29.28,"o":0.58,"d":0.11},{"t":29.30,"o":0.67,"d":0.14},
      {"t":29.32,"o":0.76,"d":0.10},{"t":29.34,"o":0.83,"d":0.16},{"t":29.36,"o":0.83,"d":0.13},{"t":29.38,"o":0.76,"d":0.19},
      {"t":29.40,"o":0.66,"d":0.22},{"t":29.425,"o":0.56,"d":0.18},{"t":29.46,"o":0.47,"d":0.12},{"t":29.505,"o":0.42,"d":0.08},
      {"t":29.565,"o":0.37,"d":0.11},{"t":29.65,"o":0.40,"d":0.06},{"t":29.75,"o":0.36,"d":0.10},
      {"t":29.875,"o":0.35,"d":0.13},{"t":30.025,"o":0.42,"d":0.06},{"t":30.175,"o":0.33,"d":0.10},{"t":30.325,"o":0.39,"d":0.04},
      {"t":30.475,"o":0.30,"d":0.11},{"t":30.625,"o":0.39,"d":0.08},{"t":30.775,"o":0.35,"d":0.13},{"t":30.925,"o":0.42,"d":0.05},
      {"t":31.075,"o":0.33,"d":0.09},{"t":31.225,"o":0.37,"d":0.12},{"t":31.375,"o":0.31,"d":0.03},{"t":31.525,"o":0.40,"d":0.10},
      {"t":31.675,"o":0.36,"d":0.07},{"t":31.825,"o":0.34,"d":0.12},{"t":31.975,"o":0.41,"d":0.06},
      {"t":32.185,"o":0.35,"d":0.10},{"t":32.24,"o":0.43,"d":0.06},{"t":32.275,"o":0.47,"d":0.12},{"t":32.30,"o":0.54,"d":0.09},
      {"t":32.32,"o":0.63,"d":0.14},{"t":32.34,"o":0.74,"d":0.18},{"t":32.36,"o":0.85,"d":0.25},{"t":32.375,"o":0.89,"d":0.29},
      {"t":32.385,"o":0.90,"d":0.28},{"t":32.40,"o":0.85,"d":0.22},{"t":32.42,"o":0.75,"d":0.16},{"t":32.44,"o":0.63,"d":0.11},
      {"t":32.46,"o":0.53,"d":0.13},{"t":32.485,"o":0.45,"d":0.08},{"t":32.52,"o":0.41,"d":0.11},{"t":32.57,"o":0.37,"d":0.06},
      {"t":32.64,"o":0.39,"d":0.10},
      {"t":32.725,"o":0.39,"d":0.05},{"t":32.875,"o":0.31,"d":0.11},{"t":33.025,"o":0.37,"d":0.08},
      {"t":33.24,"o":0.37,"d":0.12},{"t":33.305,"o":0.40,"d":0.06},{"t":33.35,"o":0.38,"d":0.10},{"t":33.385,"o":0.45,"d":0.07},
      {"t":33.41,"o":0.51,"d":0.04},{"t":33.43,"o":0.58,"d":0.00},{"t":33.45,"o":0.64,"d":-0.05},{"t":33.465,"o":0.67,"d":-0.03},
      {"t":33.48,"o":0.66,"d":-0.02},{"t":33.50,"o":0.61,"d":0.04},{"t":33.52,"o":0.55,"d":0.08},{"t":33.54,"o":0.48,"d":0.11},
      {"t":33.565,"o":0.44,"d":0.07},{"t":33.60,"o":0.39,"d":0.12},{"t":33.665,"o":0.40,"d":0.06},{"t":33.74,"o":0.36,"d":0.11},
      {"t":33.82,"o":0.39,"d":0.07},{"t":33.895,"o":0.35,"d":0.10},{"t":33.955,"o":0.39,"d":0.13},{"t":34.00,"o":0.41,"d":0.09},
      {"t":34.035,"o":0.46,"d":0.12},{"t":34.06,"o":0.52,"d":0.14},{"t":34.08,"o":0.59,"d":0.16},{"t":34.10,"o":0.65,"d":0.20},
      {"t":34.115,"o":0.68,"d":0.17},{"t":34.125,"o":0.68,"d":0.16},{"t":34.14,"o":0.65,"d":0.12},{"t":34.16,"o":0.59,"d":0.10},
      {"t":34.18,"o":0.52,"d":0.13},{"t":34.205,"o":0.46,"d":0.09},{"t":34.24,"o":0.41,"d":0.11},{"t":34.29,"o":0.38,"d":0.07},
      {"t":34.36,"o":0.37,"d":0.10},
      {"t":34.525,"o":0.38,"d":0.12},{"t":34.675,"o":0.30,"d":0.05},{"t":34.825,"o":0.40,"d":0.10},{"t":34.975,"o":0.34,"d":0.13},
      {"t":35.125,"o":0.37,"d":0.07},{"t":35.275,"o":0.32,"d":0.11},{"t":35.425,"o":0.41,"d":0.04},{"t":35.575,"o":0.32,"d":0.09},
      {"t":35.725,"o":0.38,"d":0.12},{"t":35.875,"o":0.30,"d":0.06},{"t":36.025,"o":0.37,"d":0.10},{"t":36.175,"o":0.34,"d":0.03},
      {"t":36.325,"o":0.40,"d":0.08},{"t":36.475,"o":0.30,"d":0.13},{"t":36.625,"o":0.38,"d":0.06},{"t":36.74,"o":0.40,"d":0.11},
      {"t":36.78,"o":0.44,"d":0.10},{"t":36.82,"o":0.42,"d":0.13},{"t":36.86,"o":0.41,"d":0.07},{"t":36.975,"o":0.32,"d":0.10},
      {"t":37.09,"o":0.39,"d":0.06},{"t":37.14,"o":0.39,"d":0.11},{"t":37.18,"o":0.44,"d":0.13},{"t":37.22,"o":0.41,"d":0.08},
      {"t":37.27,"o":0.40,"d":0.12},{"t":37.375,"o":0.33,"d":0.05},{"t":37.525,"o":0.39,"d":0.09},{"t":37.675,"o":0.30,"d":0.12},
      {"t":37.825,"o":0.36,"d":0.07},{"t":37.975,"o":0.40,"d":0.11},{"t":38.125,"o":0.34,"d":0.04},{"t":38.275,"o":0.39,"d":0.09},
      {"t":38.4,"o":0.32,"d":0.12},
      {"t":38.49,"o":0.38,"d":0.10},{"t":38.55,"o":0.36,"d":0.06},{"t":38.60,"o":0.41,"d":0.12},{"t":38.635,"o":0.45,"d":0.08},
      {"t":38.66,"o":0.52,"d":0.14},{"t":38.68,"o":0.61,"d":0.18},{"t":38.70,"o":0.73,"d":0.22},{"t":38.715,"o":0.84,"d":0.23},
      {"t":38.725,"o":0.90,"d":0.20},{"t":38.735,"o":0.95,"d":0.16},{"t":38.745,"o":0.98,"d":0.14},{"t":38.755,"o":0.97,"d":0.12},
      {"t":38.765,"o":0.94,"d":0.09},{"t":38.775,"o":0.90,"d":0.06},{"t":38.785,"o":0.84,"d":0.07},{"t":38.80,"o":0.74,"d":0.10},
      {"t":38.82,"o":0.61,"d":0.08},{"t":38.84,"o":0.52,"d":0.12},{"t":38.865,"o":0.46,"d":0.07},{"t":38.90,"o":0.40,"d":0.11},
      {"t":38.94,"o":0.43,"d":0.06},{"t":38.98,"o":0.41,"d":0.10},{"t":39.025,"o":0.47,"d":0.07},{"t":39.075,"o":0.46,"d":0.12},
      {"t":39.125,"o":0.43,"d":0.08},{"t":39.175,"o":0.38,"d":0.10},{"t":39.225,"o":0.41,"d":0.06},{"t":39.275,"o":0.45,"d":0.11},
      {"t":39.325,"o":0.44,"d":0.08},{"t":39.375,"o":0.38,"d":0.12},{"t":39.425,"o":0.40,"d":0.06},{"t":39.475,"o":0.39,"d":0.10},
      {"t":39.525,"o":0.43,"d":0.08},{"t":39.575,"o":0.42,"d":0.12},{"t":39.63,"o":0.37,"d":0.07},{"t":39.70,"o":0.40,"d":0.11},
      {"t":39.925,"o":0.39,"d":0.06},{"t":40.075,"o":0.33,"d":0.11},{"t":40.225,"o":0.41,"d":0.08},{"t":40.375,"o":0.29,"d":0.13},
      {"t":40.525,"o":0.37,"d":0.04},{"t":40.675,"o":0.34,"d":0.10},{"t":40.825,"o":0.38,"d":0.07},{"t":40.93,"o":0.38,"d":0.12},
      {"t":40.995,"o":0.40,"d":0.09},{"t":41.125,"o":0.30,"d":0.11},{"t":41.275,"o":0.39,"d":0.05},{"t":41.425,"o":0.32,"d":0.12},
      {"t":41.575,"o":0.36,"d":0.07},
      {"t":41.65,"o":0.37,"d":0.11},{"t":41.70,"o":0.38,"d":0.06},{"t":41.735,"o":0.41,"d":0.10},{"t":41.765,"o":0.46,"d":0.12},
      {"t":41.79,"o":0.50,"d":0.14},{"t":41.81,"o":0.53,"d":0.12},{"t":41.83,"o":0.53,"d":0.13},{"t":41.85,"o":0.50,"d":0.09},
      {"t":41.875,"o":0.45,"d":0.11},{"t":41.905,"o":0.40,"d":0.07},{"t":41.94,"o":0.36,"d":0.10},{"t":41.99,"o":0.38,"d":0.06},
      {"t":42.175,"o":0.32,"d":0.12},{"t":42.325,"o":0.40,"d":0.07},{"t":42.475,"o":0.34,"d":0.10},{"t":42.625,"o":0.37,"d":0.13},
      {"t":42.775,"o":0.29,"d":0.06},{"t":42.925,"o":0.39,"d":0.09},{"t":43.075,"o":0.31,"d":0.12},{"t":43.225,"o":0.36,"d":0.04},
      {"t":43.375,"o":0.41,"d":0.10},{"t":43.525,"o":0.33,"d":0.07},{"t":43.675,"o":0.35,"d":0.13},{"t":43.825,"o":0.38,"d":0.05},
      {"t":43.975,"o":0.30,"d":0.11},{"t":44.125,"o":0.37,"d":0.08},{"t":44.275,"o":0.32,"d":0.12},{"t":44.425,"o":0.40,"d":0.06},
      {"t":44.575,"o":0.34,"d":0.10},{"t":44.725,"o":0.38,"d":0.04},{"t":44.875,"o":0.31,"d":0.09},{"t":45.025,"o":0.37,"d":0.12},
      {"t":45.10,"o":0.37,"d":0.06},{"t":45.14,"o":0.40,"d":0.11},{"t":45.175,"o":0.44,"d":0.08},{"t":45.20,"o":0.51,"d":0.04},
      {"t":45.22,"o":0.56,"d":0.01},{"t":45.24,"o":0.60,"d":0.02},{"t":45.26,"o":0.60,"d":0.06},{"t":45.28,"o":0.56,"d":0.10},
      {"t":45.30,"o":0.50,"d":0.09},{"t":45.325,"o":0.44,"d":0.12},{"t":45.36,"o":0.39,"d":0.07},{"t":45.405,"o":0.36,"d":0.10},
      {"t":45.475,"o":0.38,"d":0.06},
      {"t":45.575,"o":0.32,"d":0.12},{"t":45.725,"o":0.39,"d":0.07},{"t":45.875,"o":0.30,"d":0.10},{"t":46.025,"o":0.37,"d":0.13},
      {"t":46.175,"o":0.34,"d":0.05},{"t":46.325,"o":0.41,"d":0.09},{"t":46.475,"o":0.29,"d":0.12},{"t":46.625,"o":0.35,"d":0.06},
      {"t":46.775,"o":0.37,"d":0.11},{"t":46.925,"o":0.31,"d":0.08},{"t":47.025,"o":0.38,"d":0.10},{"t":47.075,"o":0.41,"d":0.12},
      {"t":47.125,"o":0.42,"d":0.07},{"t":47.185,"o":0.35,"d":0.11},{"t":47.375,"o":0.40,"d":0.04},{"t":47.525,"o":0.31,"d":0.10},
      {"t":47.675,"o":0.36,"d":0.07},{"t":47.825,"o":0.33,"d":0.13},{"t":47.975,"o":0.38,"d":0.06},{"t":48.125,"o":0.28,"d":0.10},
      {"t":48.275,"o":0.37,"d":0.12},{"t":48.425,"o":0.32,"d":0.05},{"t":48.575,"o":0.40,"d":0.09},{"t":48.725,"o":0.30,"d":0.11},
      {"t":48.875,"o":0.35,"d":0.07},{"t":49.025,"o":0.32,"d":0.12},{"t":49.16,"o":0.39,"d":0.06},
      {"t":49.25,"o":0.34,"d":0.10},{"t":49.305,"o":0.38,"d":0.06},{"t":49.345,"o":0.40,"d":0.11},{"t":49.375,"o":0.44,"d":0.08},
      {"t":49.40,"o":0.50,"d":0.12},{"t":49.42,"o":0.54,"d":0.09},{"t":49.435,"o":0.56,"d":0.11},{"t":49.45,"o":0.55,"d":0.08},
      {"t":49.47,"o":0.52,"d":0.10},{"t":49.495,"o":0.46,"d":0.07},{"t":49.53,"o":0.40,"d":0.12},{"t":49.575,"o":0.38,"d":0.06},
      {"t":49.64,"o":0.34,"d":0.10},
      {"t":49.825,"o":0.39,"d":0.12},{"t":49.975,"o":0.29,"d":0.05},{"t":50.125,"o":0.36,"d":0.10},{"t":50.275,"o":0.33,"d":0.13},
      {"t":50.425,"o":0.38,"d":0.07},{"t":50.575,"o":0.31,"d":0.11},{"t":50.72,"o":0.37,"d":0.06},
      {"t":50.81,"o":0.33,"d":0.11},{"t":50.865,"o":0.38,"d":0.07},{"t":50.905,"o":0.41,"d":0.10},{"t":50.935,"o":0.48,"d":0.13},
      {"t":50.96,"o":0.55,"d":0.15},{"t":50.98,"o":0.60,"d":0.17},{"t":50.995,"o":0.63,"d":0.16},{"t":51.005,"o":0.63,"d":0.18},
      {"t":51.02,"o":0.60,"d":0.14},{"t":51.04,"o":0.55,"d":0.11},{"t":51.065,"o":0.47,"d":0.12},{"t":51.095,"o":0.41,"d":0.08},
      {"t":51.135,"o":0.35,"d":0.11},{"t":51.19,"o":0.37,"d":0.07},
      {"t":51.26,"o":0.36,"d":0.12},{"t":51.375,"o":0.38,"d":0.05},{"t":51.525,"o":0.31,"d":0.10},{"t":51.68,"o":0.37,"d":0.07},
      {"t":51.785,"o":0.35,"d":0.12},{"t":51.845,"o":0.37,"d":0.08},{"t":51.89,"o":0.42,"d":0.12},{"t":51.93,"o":0.46,"d":0.14},
      {"t":51.97,"o":0.46,"d":0.13},{"t":52.01,"o":0.41,"d":0.09},{"t":52.055,"o":0.38,"d":0.11},{"t":52.115,"o":0.35,"d":0.06},
      {"t":52.2,"o":0.33,"d":0.10},{"t":52.325,"o":0.37,"d":0.07},{"t":52.475,"o":0.35,"d":0.12},{"t":52.585,"o":0.39,"d":0.08},
      {"t":52.65,"o":0.33,"d":0.10},{"t":52.70,"o":0.38,"d":0.07},{"t":52.735,"o":0.42,"d":0.11},{"t":52.765,"o":0.48,"d":0.13},
      {"t":52.79,"o":0.52,"d":0.16},{"t":52.81,"o":0.52,"d":0.13},{"t":52.835,"o":0.48,"d":0.10},{"t":52.865,"o":0.42,"d":0.12},
      {"t":52.90,"o":0.38,"d":0.07},{"t":52.95,"o":0.35,"d":0.11},
      {"t":53.125,"o":0.39,"d":0.06},{"t":53.275,"o":0.30,"d":0.12},{"t":53.425,"o":0.36,"d":0.08},{"t":53.575,"o":0.33,"d":0.11},
      {"t":53.725,"o":0.40,"d":0.04},{"t":53.875,"o":0.29,"d":0.10},{"t":54.025,"o":0.37,"d":0.13},{"t":54.175,"o":0.32,"d":0.07},
      {"t":54.325,"o":0.38,"d":0.10},{"t":54.44,"o":0.32,"d":0.12},
      {"t":54.51,"o":0.37,"d":0.06},{"t":54.56,"o":0.37,"d":0.11},{"t":54.595,"o":0.40,"d":0.09},{"t":54.625,"o":0.47,"d":0.12},
      {"t":54.65,"o":0.53,"d":0.15},{"t":54.67,"o":0.56,"d":0.19},{"t":54.69,"o":0.56,"d":0.18},{"t":54.71,"o":0.53,"d":0.14},
      {"t":54.735,"o":0.47,"d":0.10},{"t":54.765,"o":0.41,"d":0.12},{"t":54.80,"o":0.36,"d":0.08},{"t":54.865,"o":0.37,"d":0.11},
      {"t":54.95,"o":0.33,"d":0.07},
      {"t":55.075,"o":0.38,"d":0.10},{"t":55.225,"o":0.29,"d":0.13},{"t":55.375,"o":0.36,"d":0.06},{"t":55.525,"o":0.32,"d":0.11},
      {"t":55.675,"o":0.40,"d":0.07},{"t":55.825,"o":0.30,"d":0.12},{"t":55.975,"o":0.35,"d":0.04},{"t":56.125,"o":0.33,"d":0.09},
      {"t":56.275,"o":0.39,"d":0.13},{"t":56.425,"o":0.28,"d":0.06},{"t":56.575,"o":0.37,"d":0.10},{"t":56.725,"o":0.32,"d":0.12},
      {"t":56.875,"o":0.38,"d":0.05},{"t":57.025,"o":0.31,"d":0.10},{"t":57.16,"o":0.35,"d":0.08},
      {"t":57.26,"o":0.36,"d":0.12},{"t":57.325,"o":0.39,"d":0.09},{"t":57.375,"o":0.44,"d":0.14},{"t":57.425,"o":0.43,"d":0.12},
      {"t":57.475,"o":0.38,"d":0.08},{"t":57.54,"o":0.35,"d":0.11},
      {"t":57.625,"o":0.32,"d":0.09},{"t":57.775,"o":0.39,"d":0.12},{"t":57.925,"o":0.30,"d":0.06},{"t":58.075,"o":0.35,"d":0.10},
      {"t":58.225,"o":0.28,"d":0.13},{"t":58.375,"o":0.37,"d":0.07},{"t":58.525,"o":0.32,"d":0.11},{"t":58.675,"o":0.39,"d":0.05},
      {"t":58.825,"o":0.29,"d":0.09},{"t":58.975,"o":0.36,"d":0.12},{"t":59.125,"o":0.32,"d":0.06},
      {"t":59.21,"o":0.38,"d":0.10},{"t":59.27,"o":0.39,"d":0.13},{"t":59.33,"o":0.40,"d":0.11},{"t":59.39,"o":0.35,"d":0.08},
      {"t":59.46,"o":0.37,"d":0.12},{"t":59.575,"o":0.32,"d":0.05},{"t":59.725,"o":0.37,"d":0.10},{"t":59.875,"o":0.31,"d":0.12},
      {"t":60.0,"o":0.37,"d":0.09},{"t":60.075,"o":0.40,"d":0.13},{"t":60.125,"o":0.38,"d":0.10},{"t":60.2,"o":0.33,"d":0.07},
      {"t":60.325,"o":0.38,"d":0.12},{"t":60.475,"o":0.31,"d":0.06},{"t":60.625,"o":0.36,"d":0.10},{"t":60.775,"o":0.29,"d":0.13},
      {"t":60.925,"o":0.37,"d":0.08},{"t":61.075,"o":0.33,"d":0.11},{"t":61.175,"o":0.38,"d":0.07},{"t":61.225,"o":0.35,"d":0.12},
      {"t":61.375,"o":0.30,"d":0.09},{"t":61.525,"o":0.36,"d":0.05},{"t":61.675,"o":0.30,"d":0.11},{"t":61.825,"o":0.37,"d":0.08},
      {"t":61.975,"o":0.31,"d":0.12},{"t":62.125,"o":0.34,"d":0.06},{"t":62.275,"o":0.38,"d":0.10},{"t":62.425,"o":0.29,"d":0.13},
      {"t":62.575,"o":0.35,"d":0.07},{"t":62.725,"o":0.32,"d":0.11},{"t":62.875,"o":0.37,"d":0.04},{"t":63.025,"o":0.30,"d":0.10},
      {"t":63.175,"o":0.34,"d":0.12},{"t":63.325,"o":0.38,"d":0.07},{"t":63.475,"o":0.28,"d":0.10},{"t":63.625,"o":0.35,"d":0.13},
      {"t":63.775,"o":0.31,"d":0.06},{"t":63.925,"o":0.36,"d":0.11},{"t":64.075,"o":0.34,"d":0.08},{"t":64.225,"o":0.30,"d":0.12},
      {"t":64.375,"o":0.36,"d":0.05},{"t":64.525,"o":0.31,"d":0.10},{"t":64.68,"o":0.36,"d":0.07},{"t":64.825,"o":0.35,"d":0.13},
      {"t":64.975,"o":0.30,"d":0.09},{"t":65.125,"o":0.36,"d":0.11},{"t":65.275,"o":0.29,"d":0.06},{"t":65.425,"o":0.35,"d":0.10},
      {"t":65.575,"o":0.30,"d":0.12},{"t":65.71,"o":0.36,"d":0.07},
      {"t":65.78,"o":0.33,"d":0.11},{"t":65.83,"o":0.39,"d":0.13},{"t":65.865,"o":0.44,"d":0.16},{"t":65.89,"o":0.46,"d":0.18},
      {"t":65.91,"o":0.46,"d":0.15},{"t":65.935,"o":0.43,"d":0.11},{"t":65.97,"o":0.38,"d":0.10},{"t":66.02,"o":0.35,"d":0.08},
      {"t":66.175,"o":0.36,"d":0.12},{"t":66.325,"o":0.27,"d":0.06},{"t":66.475,"o":0.34,"d":0.10},{"t":66.625,"o":0.31,"d":0.13},
      {"t":66.775,"o":0.37,"d":0.07},{"t":66.925,"o":0.29,"d":0.11},{"t":67.075,"o":0.35,"d":0.05},{"t":67.225,"o":0.26,"d":0.10},
      {"t":67.375,"o":0.33,"d":0.12},{"t":67.525,"o":0.36,"d":0.07},{"t":67.65,"o":0.33,"d":0.11},{"t":67.725,"o":0.36,"d":0.09},
      {"t":67.825,"o":0.30,"d":0.12},{"t":67.975,"o":0.35,"d":0.06},{"t":68.125,"o":0.28,"d":0.10},{"t":68.275,"o":0.34,"d":0.13},
      {"t":68.425,"o":0.31,"d":0.07},{"t":68.575,"o":0.37,"d":0.11},{"t":68.725,"o":0.27,"d":0.05},{"t":68.875,"o":0.34,"d":0.10},
      {"t":69.025,"o":0.30,"d":0.12},{"t":69.175,"o":0.35,"d":0.07}
    ],
    "calc": [
      {"t":10,"c":0.462},{"t":10.5,"c":0.459},{"t":11,"c":0.455},{"t":11.5,"c":0.452},{"t":12,"c":0.449},{"t":12.5,"c":0.446},
      {"t":13,"c":0.443},{"t":13.5,"c":0.44},{"t":14,"c":0.438},{"t":14.3,"c":0.442},{"t":14.44,"c":0.457},{"t":14.5,"c":0.484},
      {"t":14.54,"c":0.549},{"t":14.57,"c":0.662},{"t":14.6,"c":0.836},{"t":14.62,"c":0.949},{"t":14.64,"c":0.998},{"t":14.66,"c":0.949},
      {"t":14.68,"c":0.836},{"t":14.71,"c":0.662},{"t":14.74,"c":0.549},{"t":14.78,"c":0.484},{"t":14.84,"c":0.457},{"t":14.98,"c":0.438},
      {"t":15.5,"c":0.43},{"t":16,"c":0.425},{"t":16.5,"c":0.423},{"t":17,"c":0.42},{"t":17.5,"c":0.418},{"t":18,"c":0.416},
      {"t":18.2,"c":0.417},{"t":18.3,"c":0.425},{"t":18.4,"c":0.417},{"t":18.6,"c":0.415},{"t":19,"c":0.412},{"t":19.5,"c":0.41},
      {"t":20,"c":0.409},{"t":20.5,"c":0.407},{"t":21,"c":0.405},{"t":21.5,"c":0.403},{"t":22,"c":0.402},{"t":22.5,"c":0.4},
      {"t":23,"c":0.398},{"t":23.5,"c":0.396},{"t":24,"c":0.395},{"t":24.5,"c":0.394},{"t":25,"c":0.397},{"t":25.3,"c":0.406},
      {"t":25.42,"c":0.423},{"t":25.48,"c":0.461},{"t":25.52,"c":0.547},{"t":25.55,"c":0.672},{"t":25.58,"c":0.81},{"t":25.6,"c":0.851},
      {"t":25.62,"c":0.816},{"t":25.65,"c":0.685},{"t":25.68,"c":0.575},{"t":25.72,"c":0.506},{"t":25.76,"c":0.522},{"t":25.8,"c":0.638},
      {"t":25.83,"c":0.857},{"t":25.86,"c":1.195},{"t":25.88,"c":1.416},{"t":25.9,"c":1.512},{"t":25.92,"c":1.414},{"t":25.94,"c":1.192},
      {"t":25.97,"c":0.851},{"t":26,"c":0.627},{"t":26.04,"c":0.498},{"t":26.1,"c":0.444},{"t":26.2,"c":0.417},{"t":26.4,"c":0.401},
      {"t":26.7,"c":0.394},{"t":27,"c":0.392},{"t":27.4,"c":0.392},{"t":27.6,"c":0.393},{"t":27.72,"c":0.414},{"t":27.76,"c":0.441},
      {"t":27.8,"c":0.461},{"t":27.84,"c":0.441},{"t":27.88,"c":0.414},{"t":28,"c":0.392},{"t":28.3,"c":0.394},{"t":28.5,"c":0.401},
      {"t":28.6,"c":0.416},{"t":28.7,"c":0.458},{"t":28.75,"c":0.548},{"t":28.78,"c":0.691},{"t":28.81,"c":0.992},{"t":28.84,"c":1.453},
      {"t":28.86,"c":1.753},{"t":28.88,"c":1.889},{"t":28.9,"c":1.759},{"t":28.92,"c":1.459},{"t":28.95,"c":1.0},{"t":28.98,"c":0.70},
      {"t":29.01,"c":0.553},{"t":29.05,"c":0.476},{"t":29.1,"c":0.443},{"t":29.15,"c":0.429},{"t":29.2,"c":0.429},{"t":29.24,"c":0.45},
      {"t":29.27,"c":0.496},{"t":29.3,"c":0.577},{"t":29.33,"c":0.668},{"t":29.35,"c":0.693},{"t":29.37,"c":0.666},{"t":29.4,"c":0.572},
      {"t":29.43,"c":0.488},{"t":29.47,"c":0.428},{"t":29.55,"c":0.401},{"t":29.7,"c":0.388},{"t":30,"c":0.376},{"t":30.5,"c":0.367},
      {"t":31,"c":0.362},{"t":31.5,"c":0.36},{"t":31.9,"c":0.361},{"t":32.1,"c":0.365},{"t":32.2,"c":0.374},{"t":32.26,"c":0.399},
      {"t":32.3,"c":0.459},{"t":32.33,"c":0.545},{"t":32.36,"c":0.641},{"t":32.38,"c":0.669},{"t":32.4,"c":0.641},{"t":32.43,"c":0.545},
      {"t":32.46,"c":0.459},{"t":32.5,"c":0.399},{"t":32.56,"c":0.374},{"t":32.7,"c":0.364},{"t":32.9,"c":0.361},{"t":33.1,"c":0.364},
      {"t":33.25,"c":0.374},{"t":33.33,"c":0.399},{"t":33.38,"c":0.476},{"t":33.42,"c":0.635},{"t":33.45,"c":0.777},{"t":33.47,"c":0.819},
      {"t":33.49,"c":0.779},{"t":33.52,"c":0.637},{"t":33.56,"c":0.479},{"t":33.61,"c":0.399},{"t":33.7,"c":0.374},{"t":33.8,"c":0.368},
      {"t":33.9,"c":0.37},{"t":33.98,"c":0.379},{"t":34.03,"c":0.414},{"t":34.07,"c":0.486},{"t":34.1,"c":0.551},{"t":34.12,"c":0.569},
      {"t":34.14,"c":0.55},{"t":34.17,"c":0.485},{"t":34.21,"c":0.413},{"t":34.26,"c":0.376},{"t":34.35,"c":0.364},{"t":34.6,"c":0.358},
      {"t":35,"c":0.355},{"t":35.5,"c":0.354},{"t":36,"c":0.354},{"t":36.4,"c":0.355},{"t":36.6,"c":0.357},{"t":36.72,"c":0.378},
      {"t":36.76,"c":0.405},{"t":36.8,"c":0.426},{"t":36.84,"c":0.407},{"t":36.88,"c":0.38},{"t":36.98,"c":0.36},{"t":37.1,"c":0.367},
      {"t":37.16,"c":0.397},{"t":37.2,"c":0.414},{"t":37.24,"c":0.397},{"t":37.3,"c":0.367},{"t":37.45,"c":0.355},{"t":37.8,"c":0.353},
      {"t":38.2,"c":0.355},{"t":38.45,"c":0.361},{"t":38.58,"c":0.38},{"t":38.64,"c":0.431},{"t":38.68,"c":0.547},{"t":38.71,"c":0.694},
      {"t":38.73,"c":0.79},{"t":38.75,"c":0.834},{"t":38.77,"c":0.79},{"t":38.79,"c":0.694},{"t":38.82,"c":0.55},{"t":38.86,"c":0.436},
      {"t":38.9,"c":0.396},{"t":38.95,"c":0.393},{"t":39,"c":0.428},{"t":39.05,"c":0.466},{"t":39.1,"c":0.424},{"t":39.16,"c":0.382},
      {"t":39.22,"c":0.39},{"t":39.26,"c":0.418},{"t":39.3,"c":0.441},{"t":39.34,"c":0.414},{"t":39.4,"c":0.376},{"t":39.46,"c":0.375},
      {"t":39.51,"c":0.399},{"t":39.55,"c":0.416},{"t":39.6,"c":0.39},{"t":39.68,"c":0.36},{"t":39.8,"c":0.353},{"t":40.2,"c":0.35},
      {"t":40.7,"c":0.35},{"t":40.88,"c":0.362},{"t":40.96,"c":0.389},{"t":41.04,"c":0.362},{"t":41.2,"c":0.35},{"t":41.5,"c":0.351},
      {"t":41.62,"c":0.355},{"t":41.7,"c":0.368},{"t":41.75,"c":0.411},{"t":41.78,"c":0.459},{"t":41.8,"c":0.49},{"t":41.82,"c":0.503},
      {"t":41.84,"c":0.49},{"t":41.86,"c":0.459},{"t":41.89,"c":0.411},{"t":41.94,"c":0.368},{"t":42.02,"c":0.355},{"t":42.3,"c":0.348},
      {"t":43,"c":0.347},{"t":43.5,"c":0.346},{"t":44,"c":0.346},{"t":44.5,"c":0.346},{"t":44.9,"c":0.349},{"t":45.05,"c":0.356},
      {"t":45.12,"c":0.375},{"t":45.17,"c":0.433},{"t":45.2,"c":0.508},{"t":45.23,"c":0.592},{"t":45.25,"c":0.615},{"t":45.27,"c":0.592},
      {"t":45.3,"c":0.508},{"t":45.33,"c":0.433},{"t":45.38,"c":0.375},{"t":45.45,"c":0.356},{"t":45.6,"c":0.349},{"t":46,"c":0.345},
      {"t":46.5,"c":0.345},{"t":46.8,"c":0.345},{"t":46.98,"c":0.354},{"t":47.04,"c":0.382},{"t":47.1,"c":0.419},{"t":47.16,"c":0.382},
      {"t":47.22,"c":0.354},{"t":47.4,"c":0.345},{"t":48,"c":0.344},{"t":48.5,"c":0.343},{"t":48.9,"c":0.344},{"t":49.1,"c":0.346},
      {"t":49.24,"c":0.352},{"t":49.32,"c":0.371},{"t":49.37,"c":0.431},{"t":49.4,"c":0.498},{"t":49.42,"c":0.541},{"t":49.44,"c":0.56},
      {"t":49.46,"c":0.541},{"t":49.48,"c":0.498},{"t":49.51,"c":0.431},{"t":49.56,"c":0.371},{"t":49.64,"c":0.352},{"t":49.8,"c":0.345},
      {"t":50.3,"c":0.343},{"t":50.7,"c":0.345},{"t":50.82,"c":0.351},{"t":50.88,"c":0.366},{"t":50.93,"c":0.418},{"t":50.96,"c":0.476},
      {"t":50.98,"c":0.514},{"t":51,"c":0.531},{"t":51.02,"c":0.514},{"t":51.04,"c":0.476},{"t":51.07,"c":0.418},{"t":51.12,"c":0.366},
      {"t":51.18,"c":0.351},{"t":51.4,"c":0.343},{"t":51.7,"c":0.344},{"t":51.82,"c":0.349},{"t":51.88,"c":0.369},{"t":51.92,"c":0.398},
      {"t":51.95,"c":0.411},{"t":51.98,"c":0.398},{"t":52.02,"c":0.369},{"t":52.08,"c":0.349},{"t":52.3,"c":0.342},{"t":52.55,"c":0.344},
      {"t":52.66,"c":0.351},{"t":52.72,"c":0.378},{"t":52.76,"c":0.423},{"t":52.8,"c":0.457},{"t":52.84,"c":0.423},{"t":52.88,"c":0.378},
      {"t":52.94,"c":0.351},{"t":53.1,"c":0.341},{"t":53.6,"c":0.339},{"t":54,"c":0.339},{"t":54.4,"c":0.342},{"t":54.52,"c":0.349},
      {"t":54.58,"c":0.372},{"t":54.62,"c":0.421},{"t":54.65,"c":0.474},{"t":54.68,"c":0.504},{"t":54.71,"c":0.474},{"t":54.74,"c":0.421},
      {"t":54.78,"c":0.372},{"t":54.84,"c":0.349},{"t":55,"c":0.34},{"t":55.5,"c":0.337},{"t":56,"c":0.336},{"t":56.5,"c":0.335},
      {"t":57,"c":0.336},{"t":57.2,"c":0.338},{"t":57.32,"c":0.356},{"t":57.36,"c":0.381},{"t":57.4,"c":0.4},{"t":57.44,"c":0.381},
      {"t":57.48,"c":0.356},{"t":57.6,"c":0.338},{"t":58,"c":0.334},{"t":58.5,"c":0.334},{"t":59,"c":0.334},{"t":59.18,"c":0.34},
      {"t":59.24,"c":0.362},{"t":59.3,"c":0.39},{"t":59.36,"c":0.362},{"t":59.42,"c":0.34},{"t":59.7,"c":0.334},{"t":59.95,"c":0.335},
      {"t":60.04,"c":0.355},{"t":60.1,"c":0.378},{"t":60.16,"c":0.355},{"t":60.25,"c":0.335},{"t":60.6,"c":0.331},{"t":61.05,"c":0.332},
      {"t":61.14,"c":0.344},{"t":61.2,"c":0.357},{"t":61.26,"c":0.344},{"t":61.35,"c":0.332},{"t":62,"c":0.328},{"t":62.5,"c":0.328},
      {"t":63,"c":0.327},{"t":63.5,"c":0.326},{"t":63.85,"c":0.327},{"t":63.94,"c":0.338},{"t":64,"c":0.35},{"t":64.06,"c":0.338},
      {"t":64.15,"c":0.327},{"t":64.5,"c":0.324},{"t":64.7,"c":0.326},{"t":64.8,"c":0.337},{"t":64.86,"c":0.349},{"t":64.92,"c":0.337},
      {"t":65.02,"c":0.326},{"t":65.4,"c":0.324},{"t":65.7,"c":0.325},{"t":65.8,"c":0.337},{"t":65.85,"c":0.365},{"t":65.9,"c":0.394},
      {"t":65.95,"c":0.365},{"t":66,"c":0.336},{"t":66.1,"c":0.324},{"t":66.5,"c":0.32},{"t":67,"c":0.319},{"t":67.5,"c":0.319},
      {"t":67.64,"c":0.333},{"t":67.7,"c":0.348},{"t":67.76,"c":0.333},{"t":67.9,"c":0.319},{"t":68.5,"c":0.316},{"t":69,"c":0.315},
      {"t":69.5,"c":0.314}
    ],
    "bragg": [
      {"t":14.6},{"t":18.3},{"t":22.4},{"t":25.45},{"t":25.6},{"t":25.75},{"t":25.95},{"t":26.05},{"t":27.75},{"t":28.85},
      {"t":29.35},{"t":29.5},{"t":29.7},{"t":32.3},{"t":33.4},{"t":33.75},{"t":34.1},{"t":36.75},{"t":37.25},{"t":38.7},
      {"t":38.85},{"t":39.0},{"t":39.15},{"t":39.3},{"t":39.45},{"t":39.6},{"t":39.75},{"t":40.9},{"t":41.6},{"t":42.6},
      {"t":44.8},{"t":44.95},{"t":45.1},{"t":45.25},{"t":45.4},{"t":45.55},{"t":45.7},{"t":46.9},{"t":47.6},{"t":48.3},
      {"t":49.3},{"t":50.8},{"t":51.0},{"t":51.2},{"t":51.35},{"t":51.5},{"t":51.7},{"t":51.85},{"t":52.0},{"t":52.15},
      {"t":52.35},{"t":52.5},{"t":52.65},{"t":52.8},{"t":53.0},{"t":53.15},{"t":53.35},{"t":53.5},{"t":53.7},{"t":53.9},
      {"t":54.0},{"t":54.5},{"t":54.65},{"t":54.8},{"t":55.0},{"t":55.15},{"t":55.3},{"t":55.8},{"t":56.0},{"t":56.2},
      {"t":56.4},{"t":56.6},{"t":57.3},{"t":57.5},{"t":57.9},{"t":58.8},{"t":59.0},{"t":59.3},{"t":59.55},{"t":59.85},
      {"t":60.1},{"t":60.5},{"t":60.8},{"t":61.1},{"t":61.8},{"t":62.0},{"t":62.2},{"t":62.4},{"t":62.7},{"t":62.9},
      {"t":63.1},{"t":63.3},{"t":63.5},{"t":63.7},{"t":64.0},{"t":64.6},{"t":65.0},{"t":65.7},{"t":66.15},{"t":67.0},
      {"t":67.15},{"t":67.3},{"t":67.45},{"t":67.6},{"t":67.75},{"t":67.9},{"t":68.05},{"t":68.2},{"t":68.35},{"t":68.5},
      {"t":68.65},{"t":68.8},{"t":68.95}
    ]
  },
  "layer": [
    {
      "data": {"name": "pattern"},
      "mark": {"type": "point", "shape": "circle", "filled": false, "color": "#ff0000", "size": 32, "strokeWidth": 1.1, "opacity": 1},
      "encoding": {
        "x": {
          "field": "t", "type": "quantitative",
          "scale": {"domain": [10, 69.09], "nice": false, "zero": false},
          "axis": {
            "orient": "bottom", "values": [10, 20, 30, 40, 50, 60],
            "labelExpr": "datum.value % 20 == 0 ? datum.label : ''",
            "format": "d", "grid": false, "labelFlush": false, "labelOverlap": false,
            "tickSize": {"condition": {"test": "datum.value % 20 == 0", "value": -11}, "value": -6},
            "tickWidth": 2, "tickColor": "black", "domainColor": "black", "domainWidth": 2,
            "labelFontSize": 24, "labelColor": "black", "labelPadding": 26,
            "title": "2Θ (deg.)", "titleFontSize": 25, "titleFontWeight": "normal", "titleColor": "black",
            "titleX": 231, "titleY": 64, "titleBaseline": "alphabetic"
          }
        },
        "y": {
          "field": "o", "type": "quantitative",
          "scale": {"domain": [-0.25, 2.0], "nice": false, "zero": false},
          "axis": {
            "orient": "left", "values": [-0.25, 0, 0.25, 0.5, 0.75, 1, 1.25, 1.5, 1.75, 2],
            "labelExpr": "(datum.value * 2) % 1 == 0 ? format(datum.value, '.1f') : ''",
            "grid": false, "labelFlush": false, "labelOverlap": false,
            "tickSize": {"condition": {"test": "(datum.value * 2) % 1 == 0", "value": -11}, "value": -6},
            "tickWidth": 2, "tickColor": "black", "domainColor": "black", "domainWidth": 2,
            "labelFontSize": 24, "labelColor": "black", "labelPadding": 24,
            "title": "Intensity (arb. units)", "titleFontSize": 26, "titleFontWeight": "normal", "titleColor": "black",
            "titleX": -61, "titleY": 185, "titleBaseline": "alphabetic", "titleAngle": 270
          }
        }
      }
    },
    {
      "data": {"name": "calc"},
      "mark": {"type": "line", "color": "black", "strokeWidth": 1.8},
      "encoding": {
        "x": {
          "field": "t", "type": "quantitative",
          "scale": {"domain": [10, 69.09], "nice": false, "zero": false},
          "axis": {
            "orient": "top", "values": [10, 20, 30, 40, 50, 60], "labels": false, "grid": false, "title": null,
            "tickSize": {"condition": {"test": "datum.value % 20 == 0", "value": -11}, "value": -6},
            "tickWidth": 2, "tickColor": "black", "domainColor": "black", "domainWidth": 2
          }
        },
        "y": {
          "field": "c", "type": "quantitative",
          "scale": {"domain": [-0.25, 2.0], "nice": false, "zero": false},
          "axis": {
            "orient": "right", "offset": 7, "values": [-0.25, 0, 0.25, 0.5, 0.75, 1, 1.25, 1.5, 1.75, 2],
            "labels": false, "grid": false, "title": null,
            "tickSize": {"condition": {"test": "(datum.value * 2) % 1 == 0", "value": -11}, "value": -6},
            "tickWidth": 2, "tickColor": "black", "domainColor": "black", "domainWidth": 2
          }
        }
      }
    },
    {
      "data": {"name": "pattern"},
      "mark": {"type": "line", "color": "#0000ff", "strokeWidth": 1.4},
      "encoding": {
        "x": {"field": "t", "type": "quantitative", "axis": null},
        "y": {"field": "d", "type": "quantitative", "axis": null}
      }
    },
    {
      "data": {"name": "bragg"},
      "mark": {"type": "rule", "color": "#008000", "strokeWidth": 2},
      "encoding": {
        "x": {"field": "t", "type": "quantitative", "axis": null},
        "y": {"datum": -0.07, "type": "quantitative", "axis": null},
        "y2": {"datum": -0.168}
      }
    },
    {
      "data": {"values": [{}]},
      "mark": {"type": "text", "text": "RbFeSe", "align": "left", "baseline": "alphabetic", "fontSize": 26, "color": "black"},
      "encoding": {"x": {"datum": 51.85, "type": "quantitative", "axis": null}, "y": {"datum": 1.605, "type": "quantitative", "axis": null}}
    },
    {
      "data": {"values": [{}]},
      "mark": {"type": "text", "text": "2", "align": "left", "baseline": "alphabetic", "fontSize": 15, "color": "black"},
      "encoding": {"x": {"datum": 64.45, "type": "quantitative", "axis": null}, "y": {"datum": 1.538, "type": "quantitative", "axis": null}}
    },
    {
      "data": {"values": [{}]},
      "mark": {"type": "point", "shape": "circle", "filled": false, "color": "#ff0000", "size": 14, "strokeWidth": 1, "opacity": 1},
      "encoding": {"x": {"datum": 52.56, "type": "quantitative", "axis": null}, "y": {"datum": 1.399, "type": "quantitative", "axis": null}}
    },
    {
      "data": {"values": [{}]},
      "mark": {"type": "text", "text": "I", "align": "left", "baseline": "alphabetic", "fontSize": 27, "color": "black"},
      "encoding": {"x": {"datum": 55.91, "type": "quantitative", "axis": null}, "y": {"datum": 1.311, "type": "quantitative", "axis": null}}
    },
    {
      "data": {"values": [{}]},
      "mark": {"type": "text", "text": "obs", "align": "left", "baseline": "alphabetic", "fontSize": 11, "color": "black"},
      "encoding": {"x": {"datum": 57.01, "type": "quantitative", "axis": null}, "y": {"datum": 1.307, "type": "quantitative", "axis": null}}
    },
    {
      "data": {"values": [{}]},
      "mark": {"type": "rule", "color": "black", "strokeWidth": 2},
      "encoding": {"x": {"datum": 49.87, "type": "quantitative", "axis": null}, "x2": {"datum": 55.32}, "y": {"datum": 1.21, "type": "quantitative", "axis": null}}
    },
    {
      "data": {"values": [{}]},
      "mark": {"type": "text", "text": "I", "align": "left", "baseline": "alphabetic", "fontSize": 27, "color": "black"},
      "encoding": {"x": {"datum": 55.91, "type": "quantitative", "axis": null}, "y": {"datum": 1.132, "type": "quantitative", "axis": null}}
    },
    {
      "data": {"values": [{}]},
      "mark": {"type": "text", "text": "cal", "align": "left", "baseline": "alphabetic", "fontSize": 11, "color": "black"},
      "encoding": {"x": {"datum": 57.01, "type": "quantitative", "axis": null}, "y": {"datum": 1.122, "type": "quantitative", "axis": null}}
    },
    {
      "data": {"values": [{}]},
      "mark": {"type": "rule", "color": "#0000ff", "strokeWidth": 1.5, "opacity": 0.55},
      "encoding": {"x": {"datum": 49.87, "type": "quantitative", "axis": null}, "x2": {"datum": 55.32}, "y": {"datum": 1.021, "type": "quantitative", "axis": null}}
    },
    {
      "data": {"values": [{}]},
      "mark": {"type": "text", "text": "I", "align": "left", "baseline": "alphabetic", "fontSize": 27, "color": "black"},
      "encoding": {"x": {"datum": 55.91, "type": "quantitative", "axis": null}, "y": {"datum": 0.937, "type": "quantitative", "axis": null}}
    },
    {
      "data": {"values": [{}]},
      "mark": {"type": "text", "text": "obs", "align": "left", "baseline": "alphabetic", "fontSize": 11, "color": "black"},
      "encoding": {"x": {"datum": 57.01, "type": "quantitative", "axis": null}, "y": {"datum": 0.933, "type": "quantitative", "axis": null}}
    },
    {
      "data": {"values": [{}]},
      "mark": {"type": "text", "text": "-", "align": "left", "baseline": "alphabetic", "fontSize": 16, "color": "black"},
      "encoding": {"x": {"datum": 59.55, "type": "quantitative", "axis": null}, "y": {"datum": 0.976, "type": "quantitative", "axis": null}}
    },
    {
      "data": {"values": [{}]},
      "mark": {"type": "text", "text": "I", "align": "left", "baseline": "alphabetic", "fontSize": 27, "color": "black"},
      "encoding": {"x": {"datum": 60.6, "type": "quantitative", "axis": null}, "y": {"datum": 0.937, "type": "quantitative", "axis": null}}
    },
    {
      "data": {"values": [{}]},
      "mark": {"type": "text", "text": "cal", "align": "left", "baseline": "alphabetic", "fontSize": 11, "color": "black"},
      "encoding": {"x": {"datum": 61.6, "type": "quantitative", "axis": null}, "y": {"datum": 0.933, "type": "quantitative", "axis": null}}
    },
    {
      "data": {"values": [{}]},
      "mark": {"type": "rule", "color": "#008000", "strokeWidth": 2},
      "encoding": {"x": {"datum": 52.6, "type": "quantitative", "axis": null}, "y": {"datum": 0.872, "type": "quantitative", "axis": null}, "y2": {"datum": 0.784}}
    },
    {
      "data": {"values": [{}]},
      "mark": {"type": "text", "text": "Bragg", "align": "left", "baseline": "alphabetic", "fontSize": 18, "color": "black"},
      "encoding": {"x": {"datum": 56.14, "type": "quantitative", "axis": null}, "y": {"datum": 0.786, "type": "quantitative", "axis": null}}
    }
  ],
  "resolve": {"axis": {"x": "independent", "y": "independent"}}
}
